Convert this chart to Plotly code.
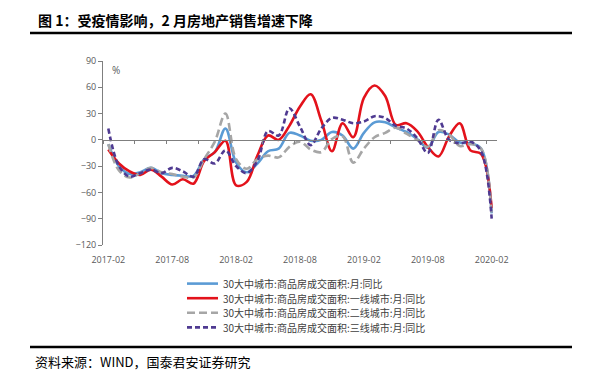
import plotly.graph_objects as go

# ---------------- data ----------------
months = list(range(37))  # 2017-02 ... 2020-02, monthly
tick_pos = [0, 6, 12, 18, 24, 30, 36]
tick_labels = ["2017-02", "2017-08", "2018-02", "2018-08", "2019-02", "2019-08", "2020-02"]
y_ticks = [-120, -90, -60, -30, 0, 30, 60, 90]

names = [
    "30大中城市:商品房成交面积:月:同比",
    "30大中城市:商品房成交面积:一线城市:月:同比",
    "30大中城市:商品房成交面积:二线城市:月:同比",
    "30大中城市:商品房成交面积:三线城市:月:同比",
]

blue = [-5, -30, -39, -37, -32, -38, -40, -41, -41, -22, -14, 13, -26, -37, -27, -13,
        -10, 8, 5, -1, 0, 9, 5, -10, 8, 20, 20, 14, 9, 1, -9, 9, 6, -3, -4, -10, -84]
red = [-11, -27, -36, -40, -34, -42, -51, -45, -50, -24, -14, -1, -52, -48, -18, 5,
       0, 16, 38, 52, 22, -13, 19, 3, 48, 62, 50, 17, 19, 10, -8, -19, 4, 19, -12, -16, -78]
gray = [-5, -35, -43, -38, -32, -37, -39, -42, -43, -22, -2, 30, -22, -33, -22, -18,
        -20, -8, -2, -11, -14, 1, 4, -26, -10, 3, 8, 14, 7, 0, -8, 11, 6, -7, -5, -10, -86]
purple = [13, -30, -42, -38, -34, -38, -32, -36, -42, -22, -27, -12, -30, -38, -24, 10,
          5, 36, 15, -6, 13, 25, 23, 19, 21, 27, 25, 16, 13, 2, -15, 23, 0, -4, -2, -13, -90]

series = [blue, red, gray, purple]
colors = ["#5B9BD5", "#E3121B", "#A6A6A6", "#4F3A91"]
dashes = ["solid", "solid", "8px,4px", "5px,3px"]

# ---------------- geometry helpers ----------------
L, R, T, B = 103, 497, 61, 245
W, H = 600, 376


def px(x):
    return (x - L) / (R - L)


def py(y):
    return (B - y) / (B - T)


fig = go.Figure()

for s, c, d, n in zip(series, colors, dashes, names):
    fig.add_trace(go.Scatter(
        x=months, y=s, mode="lines", name=n, showlegend=False,
        line=dict(color=c, width=2.6, dash=d, shape="spline", smoothing=1.0),
        hoverinfo="skip"))

# dummy trace for zero-line axis
fig.add_trace(go.Scatter(x=[-0.5], y=[0], xaxis="x2", mode="markers",
                         marker=dict(opacity=0), showlegend=False, hoverinfo="skip"))

axis_font = dict(family="Open Sans, Liberation Sans, sans-serif", size=9, color="#595959")

fig.update_layout(
    width=W, height=H,
    margin=dict(l=L, r=W - R, t=T, b=H - B, pad=0, autoexpand=False),
    paper_bgcolor="white", plot_bgcolor="white",
    showlegend=False,
    xaxis=dict(range=[-0.5, 36.5], tickvals=tick_pos, ticktext=tick_labels,
               showline=False, showgrid=False, zeroline=False, ticks="",
               tickfont=axis_font, ticklabelstandoff=8, automargin=False),
    xaxis2=dict(range=[-0.5, 36.5], overlaying="x", anchor="free",
                position=120 / 210, side="bottom",
                tickvals=[-0.5 + 3 * k for k in range(13)],
                showticklabels=False, ticks="outside", ticklen=3,
                tickcolor="#7F7F7F", showline=True, linecolor="#7F7F7F",
                linewidth=1, showgrid=False, zeroline=False, automargin=False),
    yaxis=dict(range=[-120, 90], tickvals=y_ticks, showline=True,
               linecolor="#7F7F7F", linewidth=1, ticks="outside", ticklen=4,
               tickcolor="#7F7F7F", showgrid=False, zeroline=False,
               tickfont=axis_font, automargin=False),
)

# "%" unit label
fig.add_annotation(x=px(110), y=py(70), xref="paper", yref="paper", text="%",
                   showarrow=False, xanchor="left", yanchor="middle",
                   font=dict(family="Open Sans, sans-serif", size=10, color="#595959"))

# title
fig.add_annotation(x=px(36), y=py(20), xref="paper", yref="paper",
                   text="<b>图 1：受疫情影响，2 月房地产销售增速下降</b>",
                   showarrow=False, xanchor="left", yanchor="middle",
                   font=dict(family="Noto Sans CJK SC", size=14, color="#000000"))
fig.add_shape(type="line", xref="paper", yref="paper",
              x0=px(30), x1=px(572), y0=py(33), y1=py(33),
              line=dict(color="#000000", width=2.5))

# source
fig.add_shape(type="line", xref="paper", yref="paper",
              x0=px(30), x1=px(572), y0=py(347), y1=py(347),
              line=dict(color="#000000", width=2.5))
fig.add_annotation(x=px(33), y=py(361), xref="paper", yref="paper",
                   text="资料来源：WIND，国泰君安证券研究",
                   showarrow=False, xanchor="left", yanchor="middle",
                   font=dict(family="Noto Sans CJK SC", size=13, color="#000000"))

# manual legend
leg_size = 10
leg_step = 14.6
leg_center = 305.5
rows = [leg_center + (k - 1.5) * leg_step for k in range(4)]
for n, c, d, ry in zip(names, colors, dashes, rows):
    fig.add_shape(type="line", xref="paper", yref="paper",
                  x0=px(187), x1=px(218), y0=py(ry), y1=py(ry),
                  line=dict(color=c, width=2.6, dash=d))
    fig.add_annotation(x=px(221), y=py(ry), xref="paper", yref="paper", text=n,
                       showarrow=False, xanchor="left", yanchor="middle",
                       font=dict(family="Noto Sans CJK SC", size=leg_size, color="#404040"))

fig.write_html("out.html",
               config={"displayModeBar": False},
               post_script="document.body.style.margin='0px';document.body.style.overflow='hidden';")
